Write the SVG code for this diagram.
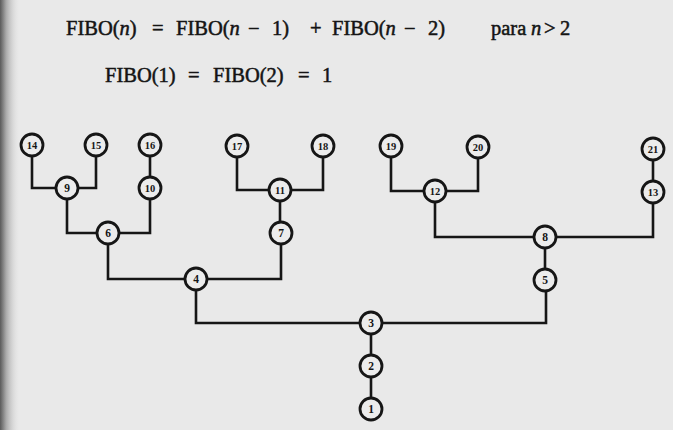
<svg xmlns="http://www.w3.org/2000/svg" width="673" height="430" viewBox="0 0 673 430">
<defs>
<linearGradient id="edge" x1="0" y1="0" x2="1" y2="0">
<stop offset="0" stop-color="#5a5a5a"/>
<stop offset="0.3" stop-color="#a8a8a8"/>
<stop offset="1" stop-color="#e6e6e6" stop-opacity="0"/>
</linearGradient>
<style>
.eq{font-family:"Liberation Serif","Times New Roman",serif;font-size:20.5px;fill:#141414;stroke:#141414;stroke-width:0.5}
.it{font-style:italic}
.wire{fill:none;stroke:#161616;stroke-width:2.6;stroke-linejoin:miter}
.node circle{fill:#ececec;stroke:#161616;stroke-width:2.8}
.node text{font-family:"Liberation Serif","Times New Roman",serif;font-weight:bold;font-size:11.5px;fill:#161616;text-anchor:middle}
.node text.d2{font-size:10.5px}
</style>
</defs>
<rect width="673" height="430" fill="#e9e9e9"/>
<rect width="20" height="430" fill="url(#edge)"/>

<g id="formulas">
<text class="eq" y="35"><tspan x="66">FIBO(</tspan><tspan class="it">n</tspan><tspan>)</tspan><tspan x="152">=</tspan><tspan x="176">FIBO(</tspan><tspan class="it">n</tspan><tspan x="248">−</tspan><tspan x="272">1)</tspan><tspan x="310">+</tspan><tspan x="332">FIBO(</tspan><tspan class="it">n</tspan><tspan x="404">−</tspan><tspan x="428">2)</tspan><tspan x="491">para</tspan><tspan x="531" class="it">n</tspan><tspan x="544">&gt;</tspan><tspan x="560">2</tspan></text>
<text class="eq" y="82"><tspan x="105">FIBO(1)</tspan><tspan x="188">=</tspan><tspan x="213">FIBO(2)</tspan><tspan x="298">=</tspan><tspan x="322">1</tspan></text>
</g>

<g id="connectors">
<path class="wire" d="M32,145 V188 H96 V145"/>
<path class="wire" d="M67,188 V233 H150 V188"/>
<path class="wire" d="M150,188 V145"/>
<path class="wire" d="M237,146 V190 H323 V146"/>
<path class="wire" d="M280,190 V233"/>
<path class="wire" d="M108,233 V279 H281 V233"/>
<path class="wire" d="M391,146 V191 H478 V147"/>
<path class="wire" d="M435,191 V237 H653 V192"/>
<path class="wire" d="M653,192 V149"/>
<path class="wire" d="M545,237 V280"/>
<path class="wire" d="M196,279 V323 H546 V280"/>
<path class="wire" d="M371,323 V409"/>
</g>

<g id="n14" class="node"><circle cx="32" cy="145" r="11"/><text class="d2" x="32" y="148.8">14</text></g>
<g id="n15" class="node"><circle cx="96" cy="145" r="11"/><text class="d2" x="96" y="148.8">15</text></g>
<g id="n16" class="node"><circle cx="150" cy="145" r="11"/><text class="d2" x="150" y="148.8">16</text></g>
<g id="n17" class="node"><circle cx="237" cy="146" r="11"/><text class="d2" x="237" y="149.8">17</text></g>
<g id="n18" class="node"><circle cx="323" cy="146" r="11"/><text class="d2" x="323" y="149.8">18</text></g>
<g id="n19" class="node"><circle cx="391" cy="146" r="11"/><text class="d2" x="391" y="149.8">19</text></g>
<g id="n20" class="node"><circle cx="478" cy="147" r="11"/><text class="d2" x="478" y="150.8">20</text></g>
<g id="n21" class="node"><circle cx="653" cy="149" r="11"/><text class="d2" x="653" y="152.8">21</text></g>
<g id="n9" class="node"><circle cx="67" cy="188" r="11"/><text x="67" y="192">9</text></g>
<g id="n10" class="node"><circle cx="150" cy="188" r="11"/><text class="d2" x="150" y="191.8">10</text></g>
<g id="n11" class="node"><circle cx="280" cy="190" r="11"/><text class="d2" x="280" y="193.8">11</text></g>
<g id="n12" class="node"><circle cx="435" cy="191" r="11"/><text class="d2" x="435" y="194.8">12</text></g>
<g id="n13" class="node"><circle cx="653" cy="192" r="11"/><text class="d2" x="653" y="195.8">13</text></g>
<g id="n6" class="node"><circle cx="108" cy="233" r="11"/><text x="108" y="237">6</text></g>
<g id="n7" class="node"><circle cx="281" cy="233" r="11"/><text x="281" y="237">7</text></g>
<g id="n8" class="node"><circle cx="545" cy="237" r="11"/><text x="545" y="241">8</text></g>
<g id="n4" class="node"><circle cx="196" cy="279" r="11"/><text x="196" y="283">4</text></g>
<g id="n5" class="node"><circle cx="545" cy="280" r="11"/><text x="545" y="284">5</text></g>
<g id="n3" class="node"><circle cx="371" cy="323" r="11"/><text x="371" y="327">3</text></g>
<g id="n2" class="node"><circle cx="371" cy="366" r="11"/><text x="371" y="370">2</text></g>
<g id="n1" class="node"><circle cx="371" cy="409" r="11"/><text x="371" y="413">1</text></g>
</svg>
